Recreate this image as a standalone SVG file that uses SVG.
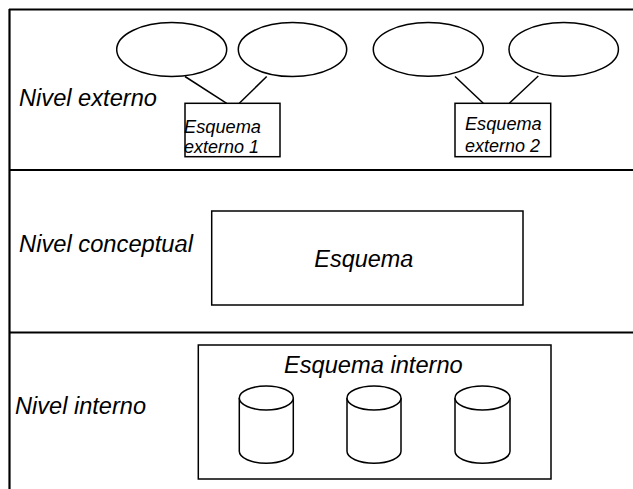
<svg xmlns="http://www.w3.org/2000/svg" width="633" height="489" viewBox="0 0 633 489">
<style>
.frame{stroke:#000;stroke-width:2.2;fill:none}
.shape{stroke:#000;stroke-width:1.5;fill:#fff}
.conn{stroke:#000;stroke-width:1.5;fill:none}
text{font-family:"Liberation Sans",Arial,sans-serif;font-style:italic;fill:#000}
.big{font-size:23px}
.small{font-size:18px}
</style>
<rect width="633" height="489" fill="#fff"/>
<g id="frame">
<line class="frame" x1="9" y1="9.5" x2="633" y2="9.5"/>
<line class="frame" x1="9.5" y1="9" x2="9.5" y2="489"/>
<line class="frame" x1="9" y1="170" x2="633" y2="170"/>
<line class="frame" x1="9" y1="332.5" x2="633" y2="332.5"/>
</g>
<g id="level-labels">
<text class="big" x="19" y="106" textLength="138" lengthAdjust="spacingAndGlyphs">Nivel externo</text>
<text class="big" x="19" y="251.5" textLength="174" lengthAdjust="spacingAndGlyphs">Nivel conceptual</text>
<text class="big" x="15" y="414" textLength="131" lengthAdjust="spacingAndGlyphs">Nivel interno</text>
</g>
<g id="connectors">
<line class="conn" x1="185" y1="76.5" x2="226.7" y2="103.3"/>
<line class="conn" x1="266.7" y1="76.5" x2="239.3" y2="103.3"/>
<line class="conn" x1="455" y1="76.5" x2="483.3" y2="103.3"/>
<line class="conn" x1="538.3" y1="76" x2="509.3" y2="103.3"/>
</g>
<g id="view1"><ellipse class="shape" cx="171.7" cy="49.6" rx="55" ry="27"/></g>
<g id="view2"><ellipse class="shape" cx="292.5" cy="49.6" rx="54.2" ry="27"/></g>
<g id="view3"><ellipse class="shape" cx="428.3" cy="49.4" rx="55" ry="26.8"/></g>
<g id="view4"><ellipse class="shape" cx="563.7" cy="49.4" rx="54.7" ry="26.8"/></g>
<g id="esquema-externo-1">
<rect class="shape" x="185" y="103.3" width="95" height="53.4"/>
<text class="small" x="184" y="133" textLength="77" lengthAdjust="spacingAndGlyphs">Esquema</text>
<text class="small" x="184" y="153" textLength="75" lengthAdjust="spacingAndGlyphs">externo 1</text>
</g>
<g id="esquema-externo-2">
<rect class="shape" x="455" y="103.3" width="95.7" height="53.4"/>
<text class="small" x="465" y="129.7" textLength="76.7" lengthAdjust="spacingAndGlyphs">Esquema</text>
<text class="small" x="465" y="151.7" textLength="75" lengthAdjust="spacingAndGlyphs">externo 2</text>
</g>
<g id="esquema-conceptual">
<rect class="shape" x="211.7" y="211" width="311.3" height="94"/>
<text class="big" x="314.3" y="267.3" textLength="99" lengthAdjust="spacingAndGlyphs">Esquema</text>
</g>
<g id="esquema-interno">
<rect class="shape" x="198.3" y="345" width="352.7" height="134"/>
<text class="big" x="284" y="373.3" textLength="178.7" lengthAdjust="spacingAndGlyphs">Esquema interno</text>
</g>
<g id="disk1">
<path class="shape" d="M239.3,398 V451.3 A27,12 0 0 0 293.3,451.3 V398"/>
<ellipse class="shape" cx="266.3" cy="398" rx="27" ry="12"/>
</g>
<g id="disk2">
<path class="shape" d="M347,398 V451.3 A27,12 0 0 0 401,451.3 V398"/>
<ellipse class="shape" cx="374" cy="398" rx="27" ry="12"/>
</g>
<g id="disk3">
<path class="shape" d="M455,398 V451.3 A27.5,12 0 0 0 510,451.3 V398"/>
<ellipse class="shape" cx="482.5" cy="398" rx="27.5" ry="12"/>
</g>
</svg>
